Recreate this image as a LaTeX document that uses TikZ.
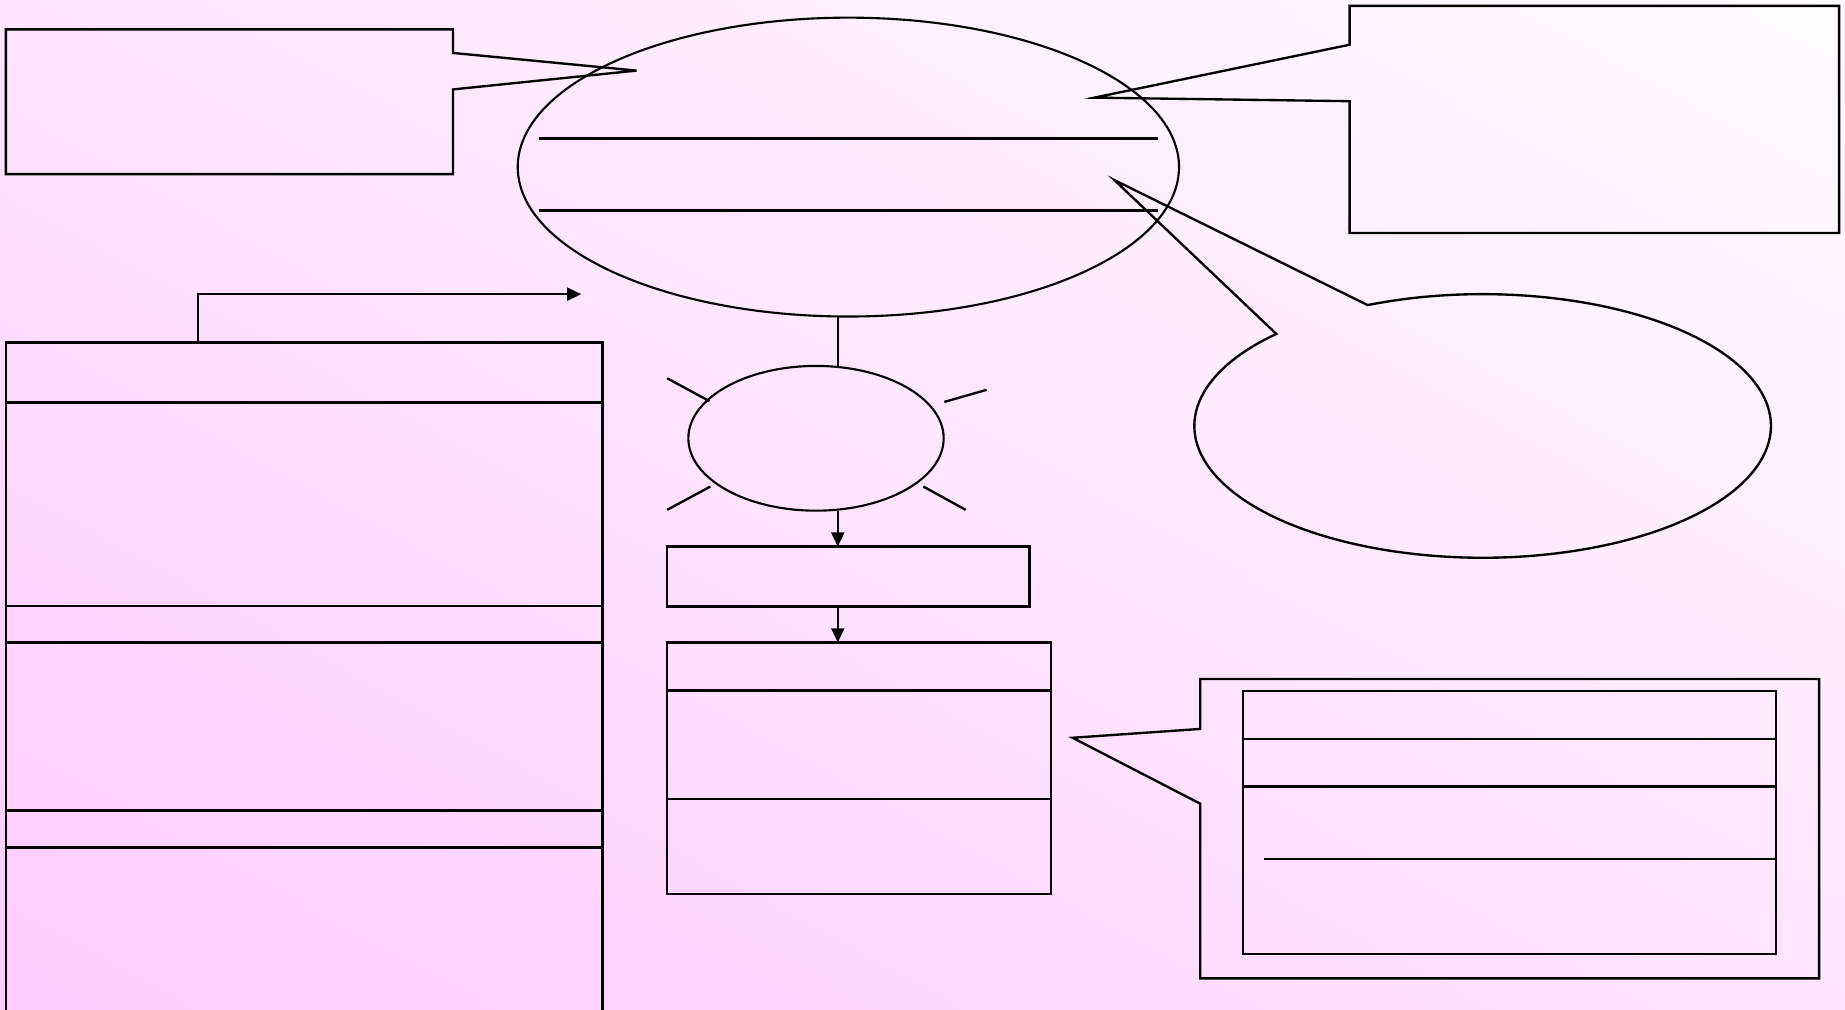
\documentclass[tikz,border=0pt]{standalone}
\usetikzlibrary{shapes.geometric,arrows.meta,calc,shadings}
\definecolor{bgpink}{RGB}{255,204,255}
\definecolor{bgwhite}{RGB}{255,252,255}
\definecolor{bgmid}{RGB}{255,228,255}
\begin{document}
\begin{tikzpicture}[x=1pt,y=-1pt, line join=miter,
  outline/.style={draw=black, line width=2pt},
  box/.style={outline, rectangle, inner sep=0pt, outer sep=0pt, anchor=north west},
  oval/.style={draw=black, line width=1.8pt, ellipse, inner sep=0pt, outer sep=0pt},
  conn/.style={draw=black, line width=2pt},
  arr/.style={conn, -{Triangle[length=12pt,width=11pt]}},
  ray/.style={draw=black, line width=2pt},
  divider/.style={draw=black, line width=2.3pt},
  callout/.style={draw=black, line width=2pt}]
\useasboundingbox (0,0) rectangle (1568,858);
\clip (0,0) rectangle (1568,858);
\shade[lower left=bgpink, upper right=bgwhite, upper left=bgmid, lower right=bgmid] (0,0) rectangle (1568,858);

% top-left callout
\draw[callout] (5,25) -- (385,25) -- (385,45) -- (541,60) -- (385,76) -- (385,148) -- (5,148) -- cycle;

% big ellipse
\node[oval, minimum width=562pt, minimum height=254pt] (big) at (721,142) {};
\draw[divider] (458,118) -- (984,118);
\draw[divider] (458,179) -- (984,179);

% top-right callout
\draw[callout] (1147,5) -- (1563,5) -- (1563,198) -- (1147,198) -- (1147,86) -- (930,83) -- (1147,38) -- cycle;

% right ellipse callout
\coordinate (rc) at (1260,362);
\draw[callout] (rc) ++(-113.5:245 and 112) arc[start angle=-113.5, end angle=224.3, x radius=245, y radius=112] -- (947,153) -- cycle;

% small ellipse with rays
\node[oval, minimum width=217pt, minimum height=123pt] (small) at (693.5,372.5) {};
\draw[ray] (567,321.5) -- (603,341);
\draw[ray] (802.5,341.6) -- (838.5,331.3);
\draw[ray] (567,433.3) -- (603.7,413.5);
\draw[ray] (784.7,413.5) -- (820.7,433.3);

% boxes in the middle
\node[box, minimum width=308pt, minimum height=51pt] (r1) at (567,464.5) {};
\node[box, minimum width=326pt, minimum height=214pt] (r2) at (567,546) {};
\draw[divider] (r2.west |- 0,587) -- (r2.east |- 0,587);
\draw[divider] (r2.west |- 0,679) -- (r2.east |- 0,679);

% connectors
\coordinate (jx) at (712,0);
\draw[conn] (big.south -| jx) -- (small.north -| jx);
\draw[arr] (small.south -| jx) -- (r1.north -| jx);
\draw[arr] (r1.south -| jx) -- (r2.north -| jx);

% left table
\node[box, minimum width=507pt, minimum height=620pt] (tbl) at (5,291) {};
\draw[divider] (tbl.west |- 0,342) -- (tbl.east |- 0,342);
\draw[divider] (tbl.west |- 0,515) -- (tbl.east |- 0,515);
\draw[divider] (tbl.west |- 0,546) -- (tbl.east |- 0,546);
\draw[divider] (tbl.west |- 0,689) -- (tbl.east |- 0,689);
\draw[divider] (tbl.west |- 0,720) -- (tbl.east |- 0,720);
\coordinate (elbow) at (168,250);
\coordinate (arrtip) at (494,250);
\draw[arr] (tbl.north -| elbow) -- (elbow) -- (arrtip);

% bottom-right callout
\draw[callout] (1020,577) -- (1546,577) -- (1546,831.5) -- (1020,831.5) -- (1020,683) -- (911.5,627) -- (1020,619.5) -- cycle;
\node[box, minimum width=453pt, minimum height=224pt] (inner) at (1056.5,587) {};
\draw[divider] (inner.west |- 0,628) -- (inner.east |- 0,628);
\draw[divider] (inner.west |- 0,668.5) -- (inner.east |- 0,668.5);
\draw[divider] (1074,730) -- (inner.east |- 0,730);
\end{tikzpicture}
\end{document}
